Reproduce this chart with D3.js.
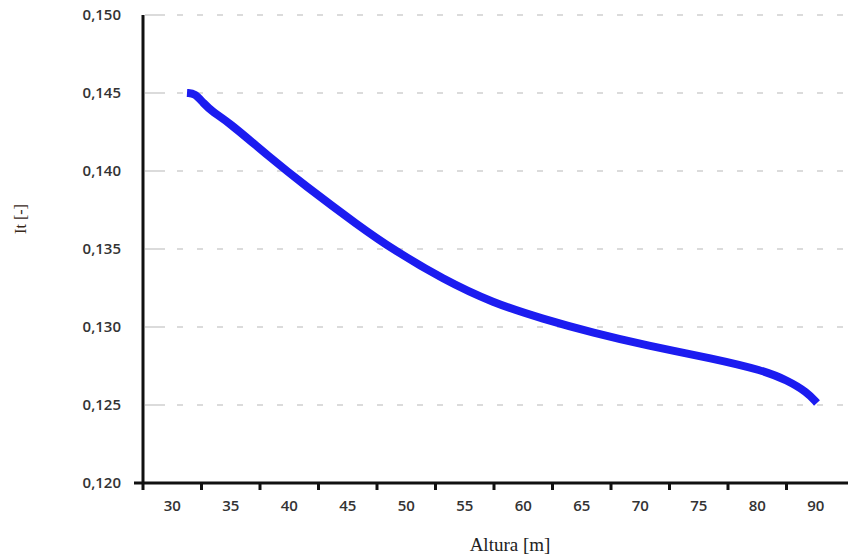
<!DOCTYPE html>
<html>
<head>
<meta charset="utf-8">
<script src="https://cdn.jsdelivr.net/npm/d3@7"></script>
<style>
  body { margin: 0; background: #fff; }
  .tick text { font-family: "Open Sans", sans-serif; font-weight: 600; fill: #333; }
</style>
</head>
<body>
<div id="chart"></div>
<script>
// x categories as printed on the axis
var xLabels = ["30", "35", "40", "45", "50", "55", "60", "65", "70", "75", "80", "90"];
var yTicks = [0.120, 0.125, 0.130, 0.135, 0.140, 0.145, 0.150];

// curve: altura [m] / It [-]
var altura = [31.26, 31.95, 32.63, 33.5, 34.68, 38.35, 41.18, 46.05, 48.87, 53.14, 57.41, 61.69, 65.96, 70.58, 76.22, 80.98, 85.09, 88.5, 90.21];
var it =     [0.1450, 0.14497, 0.14437, 0.14375, 0.14322, 0.14087, 0.13916, 0.13643, 0.13497, 0.13306, 0.13154, 0.13052, 0.12963, 0.12881, 0.12798, 0.12722, 0.12659, 0.12583, 0.12513];

var width = 848, height = 556;
var mLeft = 143, mRight = 845, mTop = 15, mBottom = 483;

var svg = d3.select("#chart").append("svg")
    .attr("width", width)
    .attr("height", height);

var xBand = d3.scaleBand()
    .domain(xLabels)
    .range([mLeft, mRight]);

// altura -> pixel, through the band centres (axis is categorical)
var xScale = d3.scaleLinear()
    .domain(xLabels.map(Number))
    .range(xLabels.map(function(d){ return xBand(d) + xBand.bandwidth() / 2; }));

var yScale = d3.scaleLinear()
    .domain([0.120, 0.150])
    .range([mBottom, mTop]);

var fmt = function(d){ return d3.format(".3f")(d).replace(".", ","); };

// grid
var dash = "20 12";
for (var k = 0; k < 40; k++) dash += " 6 14";

svg.append("g").selectAll("line")
    .data(yTicks.slice(1))
    .enter()
    .append("line")
    .attr("x1", mLeft + 2)
    .attr("x2", width)
    .attr("y1", function(d){ return yScale(d); })
    .attr("y2", function(d){ return yScale(d); })
    .attr("stroke", "#cfcfcf")
    .attr("stroke-width", 1.5)
    .attr("stroke-dasharray", dash);

// y axis labels
var yAxis = d3.axisLeft(yScale)
    .tickValues(yTicks)
    .tickFormat(fmt)
    .tickSize(0)
    .tickPadding(22);

var yAxisG = svg.append("g")
    .attr("transform", "translate(" + mLeft + ",0)")
    .call(yAxis);
yAxisG.select(".domain").remove();
yAxisG.selectAll("text").style("font-size", "15px");

svg.append("line")
    .attr("x1", mLeft).attr("x2", mLeft)
    .attr("y1", mTop).attr("y2", mBottom)
    .attr("stroke", "#111")
    .attr("stroke-width", 3);

// x axis: ticks on band boundaries, labels in the middle
var xAxis = d3.axisBottom(xBand).tickSize(0).tickPadding(17);
var xAxisG = svg.append("g")
    .attr("transform", "translate(0," + mBottom + ")")
    .call(xAxis);
xAxisG.select(".domain").remove();
xAxisG.selectAll("text").style("font-size", "15px");

svg.append("line")
    .attr("x1", mLeft - 9).attr("x2", width)
    .attr("y1", mBottom).attr("y2", mBottom)
    .attr("stroke", "#111")
    .attr("stroke-width", 3);

svg.append("g").selectAll("line")
    .data(xLabels.slice(1))
    .enter()
    .append("line")
    .attr("x1", function(d){ return xBand(d); })
    .attr("x2", function(d){ return xBand(d); })
    .attr("y1", mBottom)
    .attr("y2", mBottom + 7)
    .attr("stroke", "#111")
    .attr("stroke-width", 3);

svg.append("line")
    .attr("x1", mLeft).attr("x2", mLeft)
    .attr("y1", mBottom).attr("y2", mBottom + 7)
    .attr("stroke", "#111")
    .attr("stroke-width", 3);

// titles
svg.append("text")
    .attr("x", 510)
    .attr("y", 551)
    .attr("text-anchor", "middle")
    .style("font-family", "'Liberation Serif', serif")
    .style("font-size", "19px")
    .style("fill", "#222")
    .text("Altura [m]");

svg.append("text")
    .attr("transform", "translate(26,219) rotate(-90)")
    .attr("text-anchor", "middle")
    .style("font-family", "'Liberation Serif', serif")
    .style("font-size", "16px")
    .style("fill", "#3a2a1a")
    .text("It [-]");

// curve
var points = altura.map(function(a, i){ return [a, it[i]]; });

var line = d3.line()
    .x(function(d){ return xScale(d[0]); })
    .y(function(d){ return yScale(d[1]); })
    .curve(d3.curveBasis);

svg.append("path")
    .datum(points)
    .attr("d", line)
    .attr("fill", "none")
    .attr("stroke", "#1c1cf0")
    .attr("stroke-width", 8)
    .attr("stroke-linecap", "butt");
</script>
</body>
</html>
